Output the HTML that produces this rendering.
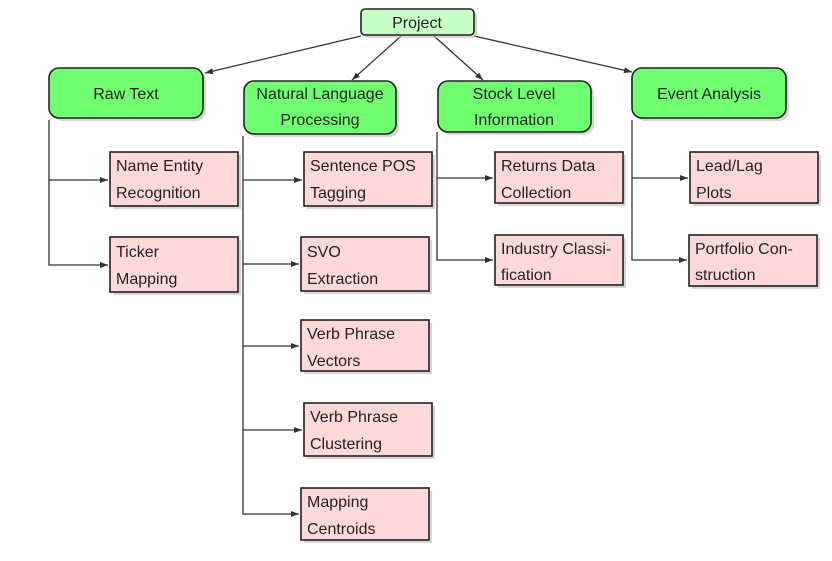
<!DOCTYPE html>
<html><head><meta charset="utf-8"><style>
html,body{margin:0;padding:0;background:#fff;}
svg text{font-family:"Liberation Sans","DejaVu Sans",sans-serif;font-size:16px;fill:#222;}
</style></head><body>
<svg width="832" height="556" viewBox="0 0 832 556" xmlns="http://www.w3.org/2000/svg">
<defs>
<marker id="a" markerWidth="8" markerHeight="6" refX="8" refY="3" orient="auto" markerUnits="userSpaceOnUse">
<path d="M0,0 L8,3 L0,6 Z" fill="#333"/></marker>
</defs>
<g stroke="#333" stroke-width="1.3" fill="none">
<line x1="361" y1="36" x2="205" y2="73" marker-end="url(#a)"/>
<line x1="401" y1="36" x2="352" y2="80" marker-end="url(#a)"/>
<line x1="434" y1="36" x2="483" y2="80" marker-end="url(#a)"/>
<line x1="474" y1="36" x2="632" y2="72" marker-end="url(#a)"/>
<polyline points="49,120 49,265 108,265" marker-end="url(#a)"/>
<line x1="49" y1="180" x2="108" y2="180" marker-end="url(#a)"/>
<polyline points="243,136 243,514 299,514" marker-end="url(#a)"/>
<line x1="243" y1="180" x2="302" y2="180" marker-end="url(#a)"/>
<line x1="243" y1="264" x2="299" y2="264" marker-end="url(#a)"/>
<line x1="243" y1="346" x2="299" y2="346" marker-end="url(#a)"/>
<line x1="243" y1="430" x2="302" y2="430" marker-end="url(#a)"/>
<polyline points="437,132 437,260 493,260" marker-end="url(#a)"/>
<line x1="437" y1="178" x2="493" y2="178" marker-end="url(#a)"/>
<polyline points="632,120 632,260 687,260" marker-end="url(#a)"/>
<line x1="632" y1="178" x2="688" y2="178" marker-end="url(#a)"/>
</g>
<!-- shadows -->
<g fill="#bbb" opacity="0.6">
<rect x="364" y="12" width="113" height="26" rx="4"/>
<rect x="52" y="71" width="154" height="50" rx="10"/>
<rect x="247" y="84" width="152" height="53" rx="10"/>
<rect x="441" y="84" width="153" height="51" rx="10"/>
<rect x="635" y="71" width="154" height="50" rx="10"/>
<rect x="113" y="155" width="128" height="54"/>
<rect x="113" y="240" width="128" height="55"/>
<rect x="307" y="155" width="128" height="54"/>
<rect x="304" y="240" width="128" height="54"/>
<rect x="304" y="323" width="128" height="51"/>
<rect x="307" y="406" width="128" height="53"/>
<rect x="304" y="491" width="128" height="52"/>
<rect x="498" y="155" width="128" height="51"/>
<rect x="498" y="238" width="128" height="50"/>
<rect x="693" y="155" width="128" height="51"/>
<rect x="692" y="238" width="128" height="51"/>
</g>
<g stroke="#222" stroke-width="1.6">
<rect x="361" y="9" width="113" height="26" rx="4" fill="#c8ffc8"/>
<g fill="#70ff70">
<rect x="49" y="68" width="154" height="50" rx="10"/>
<rect x="244" y="81" width="152" height="53" rx="10"/>
<rect x="438" y="81" width="153" height="51" rx="10"/>
<rect x="632" y="68" width="154" height="50" rx="10"/>
</g>
<g fill="#ffd9d9">
<rect x="110" y="152" width="128" height="54"/>
<rect x="110" y="237" width="128" height="55"/>
<rect x="304" y="152" width="128" height="54"/>
<rect x="301" y="237" width="128" height="54"/>
<rect x="301" y="320" width="128" height="51"/>
<rect x="304" y="403" width="128" height="53"/>
<rect x="301" y="488" width="128" height="52"/>
<rect x="495" y="152" width="128" height="51"/>
<rect x="495" y="235" width="128" height="50"/>
<rect x="690" y="152" width="128" height="51"/>
<rect x="689" y="235" width="128" height="51"/>
</g>
</g>
<g text-anchor="middle">
<text x="417" y="28">Project</text>
<text x="126" y="99">Raw Text</text>
<text x="320" y="99">Natural Language</text>
<text x="320" y="125">Processing</text>
<text x="514" y="99">Stock Level</text>
<text x="514" y="125">Information</text>
<text x="709" y="99">Event Analysis</text>
</g>
<text x="116" y="171">Name Entity</text><text x="116" y="198">Recognition</text>
<text x="116" y="257">Ticker</text><text x="116" y="284">Mapping</text>
<text x="310" y="171">Sentence POS</text><text x="310" y="198">Tagging</text>
<text x="307" y="257">SVO</text><text x="307" y="284">Extraction</text>
<text x="307" y="339">Verb Phrase</text><text x="307" y="366">Vectors</text>
<text x="310" y="422">Verb Phrase</text><text x="310" y="449">Clustering</text>
<text x="307" y="507">Mapping</text><text x="307" y="534">Centroids</text>
<text x="501" y="171">Returns Data</text><text x="501" y="198">Collection</text>
<text x="501" y="254">Industry Classi-</text><text x="501" y="280">fication</text>
<text x="696" y="171">Lead/Lag</text><text x="696" y="198">Plots</text>
<text x="695" y="254">Portfolio Con-</text><text x="695" y="280">struction</text>
</svg>
</body></html>
